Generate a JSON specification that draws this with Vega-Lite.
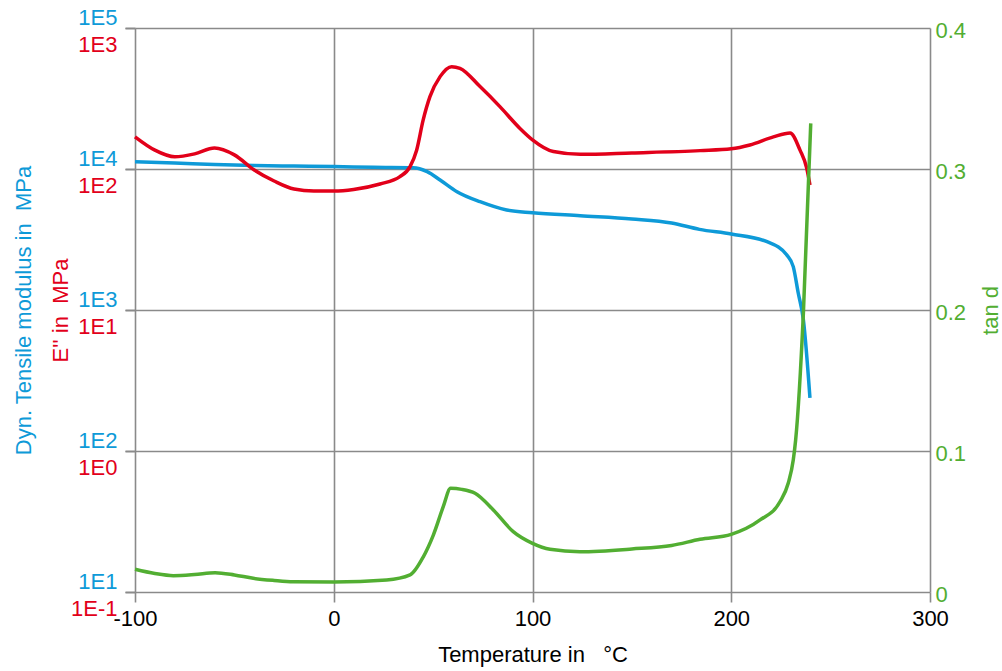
{
  "$schema": "https://vega.github.io/schema/vega-lite/v6.json",
  "width": 795,
  "height": 564,
  "autosize": {"type": "none"},
  "padding": {"left": 135, "top": 28, "right": 72, "bottom": 79},
  "background": "white",
  "config": {
    "view": {"stroke": null},
    "font": "Liberation Sans",
    "axis": {
      "labelFont": "Liberation Sans",
      "titleFont": "Liberation Sans",
      "labelFontSize": 22,
      "titleFontSize": 22,
      "titleFontWeight": "normal",
      "labelOverlap": false,
      "labelFlush": false,
      "domain": false,
      "gridColor": "#8a8a8a",
      "gridWidth": 1.6,
      "gridOpacity": 1,
      "tickColor": "#8a8a8a",
      "tickWidth": 1.6,
      "tickSize": 10
    }
  },
  "datasets": {
    "storage_modulus": [
      {"temp": -100, "value": 11270}, {"temp": -80, "value": 11040}, {"temp": -60, "value": 10770},
      {"temp": -40, "value": 10590}, {"temp": -20, "value": 10500}, {"temp": 0, "value": 10420},
      {"temp": 20, "value": 10280}, {"temp": 40, "value": 10210}, {"temp": 47, "value": 9570},
      {"temp": 53.5, "value": 8360}, {"temp": 62, "value": 6900}, {"temp": 73.6, "value": 5860},
      {"temp": 87, "value": 5120}, {"temp": 100, "value": 4900}, {"temp": 124, "value": 4660},
      {"temp": 150, "value": 4420}, {"temp": 170, "value": 4140}, {"temp": 184, "value": 3730},
      {"temp": 200, "value": 3460}, {"temp": 218, "value": 3050}, {"temp": 228, "value": 2450},
      {"temp": 231.2, "value": 2030}, {"temp": 233.7, "value": 1320}, {"temp": 236.3, "value": 850},
      {"temp": 239.6, "value": 238}
    ],
    "loss_modulus": [
      {"temp": -100, "value": 169}, {"temp": -90, "value": 136}, {"temp": -80, "value": 122},
      {"temp": -70, "value": 128}, {"temp": -60, "value": 141}, {"temp": -50, "value": 126},
      {"temp": -40, "value": 98.4}, {"temp": -30, "value": 82.2}, {"temp": -20, "value": 72.1},
      {"temp": -10, "value": 69.8}, {"temp": 0, "value": 69.8}, {"temp": 10, "value": 71.6},
      {"temp": 23.3, "value": 78.3}, {"temp": 33.3, "value": 88.2}, {"temp": 38.4, "value": 104},
      {"temp": 41.7, "value": 136}, {"temp": 45, "value": 223}, {"temp": 48.4, "value": 326},
      {"temp": 53.5, "value": 452}, {"temp": 59.3, "value": 532}, {"temp": 63.5, "value": 518},
      {"temp": 73.6, "value": 384}, {"temp": 83.6, "value": 277}, {"temp": 93.7, "value": 194},
      {"temp": 100, "value": 161}, {"temp": 110.5, "value": 133}, {"temp": 124, "value": 127},
      {"temp": 150, "value": 130}, {"temp": 184.3, "value": 135}, {"temp": 200, "value": 139},
      {"temp": 209.4, "value": 148}, {"temp": 221.2, "value": 169}, {"temp": 229.6, "value": 180},
      {"temp": 234.6, "value": 136}, {"temp": 238, "value": 101}, {"temp": 239.6, "value": 77}
    ],
    "tan_delta": [
      {"temp": -100, "value": 0.0161}, {"temp": -90, "value": 0.0131}, {"temp": -80.7, "value": 0.0116},
      {"temp": -70, "value": 0.0124}, {"temp": -59.7, "value": 0.0137}, {"temp": -50, "value": 0.0121},
      {"temp": -40.5, "value": 0.0097}, {"temp": -30, "value": 0.0082}, {"temp": -20.4, "value": 0.0073},
      {"temp": 0, "value": 0.0071}, {"temp": 26.6, "value": 0.0085}, {"temp": 38.4, "value": 0.0121},
      {"temp": 45, "value": 0.0248}, {"temp": 50.1, "value": 0.0404}, {"temp": 55.1, "value": 0.0605},
      {"temp": 58.8, "value": 0.0735}, {"temp": 64.4, "value": 0.0728}, {"temp": 71.1, "value": 0.07},
      {"temp": 80.3, "value": 0.0582}, {"temp": 90.3, "value": 0.0428}, {"temp": 100, "value": 0.0345},
      {"temp": 108.8, "value": 0.0303}, {"temp": 123.9, "value": 0.0286}, {"temp": 150, "value": 0.0305},
      {"temp": 170, "value": 0.033}, {"temp": 184.3, "value": 0.0374}, {"temp": 200, "value": 0.0409},
      {"temp": 214.5, "value": 0.0511}, {"temp": 224.5, "value": 0.064}, {"temp": 228.7, "value": 0.0773},
      {"temp": 231.2, "value": 0.0936}, {"temp": 232.4, "value": 0.1078}, {"temp": 236.3, "value": 0.1979},
      {"temp": 240, "value": 0.3324}
    ]
  },
  "encoding": {
    "x": {
      "field": "temp",
      "type": "quantitative",
      "scale": {"domain": [-100, 300], "nice": false, "zero": false},
      "axis": {
        "values": [-100, 0, 100, 200, 300],
        "title": "Temperature in \u00a0\u00a0°C",
        "labelExpr": "'' + datum.value",
        "labelColor": "black",
        "titleColor": "black",
        "labelPadding": 6,
        "titlePadding": 15,
        "grid": true
      }
    }
  },
  "layer": [
    {
      "data": {"name": "storage_modulus"},
      "mark": {"type": "line", "color": "#0e9ad8", "strokeWidth": 3.5, "interpolate": "monotone"},
      "encoding": {
        "y": {
          "field": "value",
          "type": "quantitative",
          "scale": {"type": "log", "domain": [10, 100000], "nice": false},
          "axis": {
            "orient": "left",
            "values": [10, 100, 1000, 10000, 100000],
            "labelExpr": "'1E' + round(log(datum.value) / LN10)",
            "labelColor": "#0e9ad8",
            "labelBaseline": "middle",
            "labelOffset": -11,
            "labelPadding": 8,
            "grid": true,
            "title": "Dyn. Tensile modulus in \u00a0MPa",
            "titleColor": "#0e9ad8",
            "titleX": -105,
            "titleY": 282,
            "titleAngle": -90,
            "titleAlign": "center",
            "titleBaseline": "alphabetic"
          }
        }
      }
    },
    {
      "data": {"name": "loss_modulus"},
      "mark": {"type": "line", "color": "#e2001a", "strokeWidth": 3.5, "interpolate": "monotone"},
      "encoding": {
        "y": {
          "field": "value",
          "type": "quantitative",
          "scale": {"type": "log", "domain": [0.1, 1000], "nice": false},
          "axis": {
            "orient": "left",
            "values": [0.1, 1, 10, 100, 1000],
            "labelExpr": "'1E' + round(log(datum.value) / LN10)",
            "labelColor": "#e2001a",
            "labelBaseline": "middle",
            "labelOffset": 16,
            "labelPadding": 8,
            "grid": false,
            "title": "E'' in \u00a0MPa",
            "titleColor": "#e2001a",
            "titleX": -68,
            "titleY": 282,
            "titleAngle": -90,
            "titleAlign": "center",
            "titleBaseline": "alphabetic"
          }
        }
      }
    },
    {
      "data": {"name": "tan_delta"},
      "mark": {"type": "line", "color": "#52ae32", "strokeWidth": 3.5, "interpolate": "monotone"},
      "encoding": {
        "y": {
          "field": "value",
          "type": "quantitative",
          "scale": {"domain": [0, 0.4], "nice": false},
          "axis": {
            "orient": "right",
            "values": [0, 0.1, 0.2, 0.3, 0.4],
            "labelExpr": "datum.value == 0 ? '0' : format(datum.value, '.1f')",
            "labelColor": "#52ae32",
            "labelBaseline": "middle",
            "labelOffset": 2,
            "labelPadding": 5,
            "ticks": false,
            "grid": false,
            "title": "tan d",
            "titleColor": "#52ae32",
            "titleX": 67,
            "titleY": 282,
            "titleAngle": -90,
            "titleAlign": "center",
            "titleBaseline": "alphabetic"
          }
        }
      }
    }
  ],
  "resolve": {"scale": {"y": "independent"}, "axis": {"y": "independent"}}
}
